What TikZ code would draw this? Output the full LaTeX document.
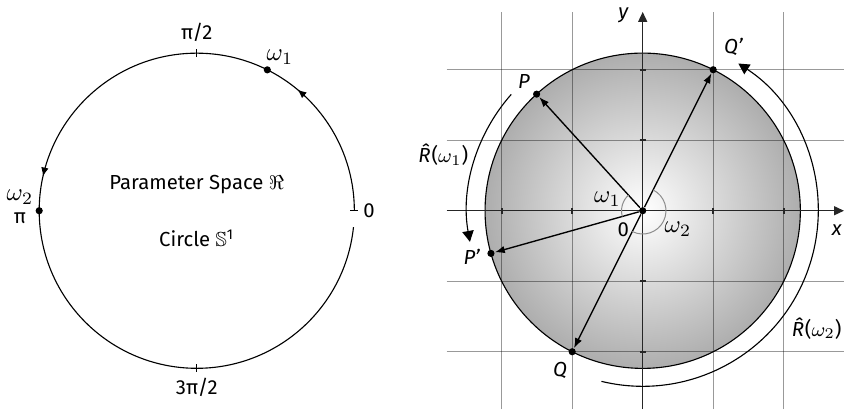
\documentclass[tikz,border=0pt]{standalone}
\usepackage{amsmath}
\usepackage{amssymb}
\usepackage{fontspec}
\setmainfont{Fira Sans}
\usepackage{tikz}
\usetikzlibrary{arrows.meta,decorations.markings}

\begin{document}
\begin{tikzpicture}[
    font=\fontsize{8.2}{9.8}\selectfont,
    >={Latex[length=4pt,width=3pt]},
    dot/.style={circle, fill=black, inner sep=0pt, minimum size=2.9pt},
    circ/.style={draw=black, line width=0.45pt},
    tickmark/.style={line width=0.45pt},
    gridline/.style={draw=black, draw opacity=0.4, line width=0.5pt},
    axisline/.style={draw=black!85, line width=0.6pt, -{Triangle[length=4pt,width=3.6pt]}},
    axtick/.style={draw=black!85, line width=0.7pt},
    vec/.style={->, line width=0.55pt},
    anglearc/.style={draw=black!45, line width=0.4pt},
    rotarrow/.style={line width=0.45pt, -{Triangle[length=4.4pt,width=4.6pt]}},
    ptlbl/.style={font=\fontsize{8.2}{9.8}\selectfont\itshape, inner sep=1pt},
    omlbl/.style={font=\fontsize{10}{12}\selectfont, inner sep=1pt},
    onpath/.style={postaction=decorate, decoration={markings,
        mark=at position 0.142 with {\arrow{Latex[length=3.6pt,width=3pt]}},
        mark=at position 0.473 with {\arrow{Latex[length=3.6pt,width=3pt]}}}},
]
\useasboundingbox (-9.116,-2.813) rectangle (2.855,2.989);

% ---------- parameter space (left) ----------
\begin{scope}[shift={(-6.325,0)}]
\draw[circ, onpath] (0:2.235) arc[start angle=0, end angle=354, radius=2.235];
\foreach \a in {0,90,270}
  \draw[tickmark] (\a:2.18) -- (\a:2.29);

\node[dot] (w1dot) at (63.4:2.235) {};
\node[dot] (w2dot) at (180:2.235) {};

\node (pihalf)        at (0,2.535)       {π/2};
\node (threepihalf)   at (0,-2.50)       {3π/2};
\node (zero)          at (2.445,0)       {0};
\node[omlbl] (w1lbl)  at (1.179,2.18)    {$\omega_1$};
\node[omlbl] (w2lbl)  at (-2.507,0.194)  {$\omega_2$};
\node (pilbl)         at (-2.507,-0.104) {π};
\node (title)         at (0,0.365)       {Parameter Space $\Re$};
\node (circlelbl)     at (0,-0.387)      {Circle $\mathbb{S}$\textsuperscript{1}};
\end{scope}

% ---------- rotations in the plane (right) ----------
\shade[shading=radial, inner color=white, outer color=black!32] (0,0) circle (2.236);
\foreach \k in {-2,-1,1,2} {
  \draw[gridline] (-2.78,\k) -- (2.855,\k);
  \draw[gridline] (\k,-2.813) -- (\k,2.82);
}
\draw[circ] (0,0) circle (2.236);

\draw[axisline] (-2.78,0) -- (2.855,0);
\draw[axisline] (0,-2.813) -- (0,2.82);
\foreach \k in {-2,-1,1,2} {
  \draw[axtick] (\k,-0.045) -- (\k,0.045);
  \draw[axtick] (-0.045,\k) -- (0.045,\k);
}

\node[dot] (O)  at (0,0)          {};
\node[dot] (P)  at (132.3:2.236)  {};
\node[dot] (Pr) at (195.7:2.236)  {};
\node[dot] (Q)  at (-1,-2)        {};
\node[dot] (Qr) at (1,2)          {};

\draw[vec] (O) -- (P);
\draw[vec] (O) -- (Pr);
\draw[vec] (O) -- (Q);
\draw[vec] (O) -- (Qr);

% angles
\draw[anglearc] (132.3:0.3) arc[start angle=132.3, end angle=195.7, radius=0.3];
\draw[anglearc] (63.4:0.33) arc[start angle=63.4, end angle=-116.6, radius=0.33];

% rotation arrows
\draw[rotarrow] (138.5:2.49) arc[start angle=138.5, end angle=190.2, radius=2.49];
\draw[rotarrow] (256.4:2.49) arc[start angle=256.4, end angle=417, radius=2.49];

\node[ptlbl] (Plbl)  at (-1.684,1.83)   {P};
\node[ptlbl] (Prlbl) at (-2.426,-0.652) {P'};
\node[ptlbl] (Qlbl)  at (-1.173,-2.26)  {Q};
\node[ptlbl] (Qrlbl) at (1.286,2.326)   {Q'};
\node[ptlbl] (xlbl)  at (2.752,-0.274)  {x};
\node[ptlbl] (ylbl)  at (-0.275,2.776)  {y};

\node[omlbl] (om1)  at (-0.50,0.16)   {$\omega_1$};
\node (orig)        at (-0.275,-0.264) {0};
\node[omlbl] (om2)  at (0.50,-0.264)   {$\omega_2$};

\node (R1lbl) at (-2.828,0.79)  {\textit{\^{R}}($\omega_1$)};
\node (R2lbl) at (2.468,-1.668) {\textit{\^{R}}($\omega_2$)};

\end{tikzpicture}
\end{document}
